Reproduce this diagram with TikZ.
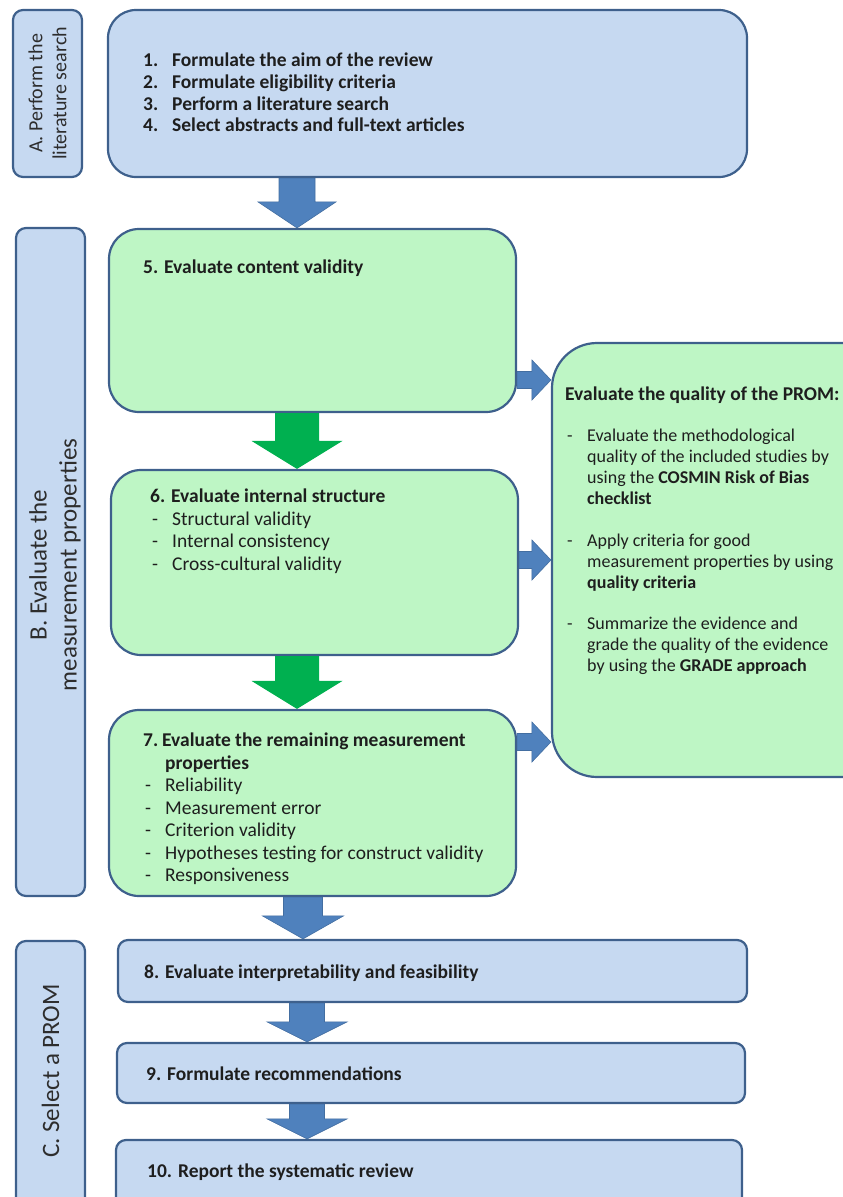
\documentclass[tikz,border=0pt]{standalone}
\usepackage{fontspec}
\setmainfont{Carlito}
\usetikzlibrary{calc}
\definecolor{boxblue}{RGB}{198,217,241}
\definecolor{boxgreen}{RGB}{190,246,197}
\definecolor{edge}{RGB}{62,96,140}
\definecolor{arrblue}{RGB}{79,129,189}
\definecolor{arrgreen}{RGB}{0,176,80}
\definecolor{txt}{RGB}{30,30,30}
\definecolor{txtg}{RGB}{45,45,45}
\tikzset{
  bx/.style={draw=edge, line width=2.2pt, inner sep=0pt},
  bluebx/.style={bx, fill=boxblue},
  greenbx/.style={bx, fill=boxgreen},
  txtnode/.style={inner sep=0pt, text=txt, align=left},
  mainfont/.style={font=\fontsize{19.5}{22.5}\selectfont},
  mainbold/.style={font=\fontsize{19.5}{22.5}\selectfont\bfseries},
  sidefont/.style={font=\fontsize{25}{30}\selectfont, text=txtg},
  bluearrow/.style={fill=arrblue, draw=arrblue!85!black, line width=0.6pt},
  greenarrow/.style={fill=arrgreen},
  fatdown/.style n args={3}{to path={let \p1=(\tikztostart), \p2=(\tikztotarget) in
    (\x1-#1/2,\y1) -- (\x1+#1/2,\y1) -- (\x1+#1/2,\y2+#3) -- (\x1+#2/2,\y2+#3) -- (\x2,\y2)
    -- (\x1-#2/2,\y2+#3) -- (\x1-#1/2,\y2+#3) -- cycle}},
  fatright/.style n args={3}{to path={let \p1=(\tikztostart), \p2=(\tikztotarget) in
    (\x1,\y1+#1/2) -- (\x2-#3,\y1+#1/2) -- (\x2-#3,\y1+#2/2) -- (\x2,\y1)
    -- (\x2-#3,\y1-#2/2) -- (\x2-#3,\y1-#1/2) -- (\x1,\y1-#1/2) -- cycle}},
}
\newcommand\dashitem[1]{\hspace*{2pt}\makebox[20pt][l]{-}#1}
\begin{document}
\begin{tikzpicture}[x=1pt,y=-1pt]
\useasboundingbox (0,0) rectangle (843,1197);
\clip (0,0) rectangle (843,1197);

% side boxes
\node[bluebx, rounded corners=10pt, minimum width=69pt, minimum height=167pt] (sa) at (47.5,93.5) {};
\node[bluebx, rounded corners=10pt, minimum width=69pt, minimum height=668pt] (sb) at (50.5,562) {};
\node[bluebx, rounded corners=10pt, minimum width=69pt, minimum height=289pt] (sc) at (50.5,1085.5) {};
\node[inner sep=0pt, rotate=90, align=center, text=txtg, font=\fontsize{20}{24}\selectfont] (la) at (47.5,93.5) {A. Perform the\\literature search};
\node[inner sep=0pt, rotate=90, align=center, sidefont] (lb) at (55,565) {B. Evaluate the\\measurement properties};
\node[inner sep=0pt, rotate=90, sidefont] (lc) at (50.5,1071) {C. Select a PROM};

% main boxes
\node[bluebx, rounded corners=28pt, minimum width=639pt, minimum height=167pt] (b1) at (427.5,93.5) {};
\node[greenbx, rounded corners=30pt, minimum width=407pt, minimum height=183pt] (b5) at (312.5,320.5) {};
\node[greenbx, rounded corners=30pt, minimum width=407pt, minimum height=185pt] (b6) at (314.5,562.5) {};
\node[greenbx, rounded corners=30pt, minimum width=407pt, minimum height=186pt] (b7) at (312.5,803) {};
\node[greenbx, rounded corners=45pt, minimum width=348pt, minimum height=434pt] (rb) at (726,560) {};
\node[bluebx, rounded corners=10pt, minimum width=629pt, minimum height=62pt] (b8) at (432.5,971) {};
\node[bluebx, rounded corners=10pt, minimum width=628pt, minimum height=60pt] (b9) at (431,1073) {};
\node[bluebx, rounded corners=10pt, minimum width=626pt, minimum height=90pt] (b10) at (429,1185) {};

% texts
\node[txtnode, mainbold, anchor=north west] (t1) at (143,53)
  {\makebox[29pt][l]{1.}Formulate the aim of the review\\[-0.8pt]
   \makebox[29pt][l]{2.}Formulate eligibility criteria\\[-0.8pt]
   \makebox[29pt][l]{3.}Perform a literature search\\[-0.8pt]
   \makebox[29pt][l]{4.}Select abstracts and full-text articles};
\node[txtnode, mainbold, anchor=base west] (t5) at (143,273) {5. Evaluate content validity};
\node[txtnode, mainfont, anchor=north west] (t6) at (150,489)
  {\textbf{6. Evaluate internal structure}\\
   \dashitem{Structural validity}\\
   \dashitem{Internal consistency}\\
   \dashitem{Cross-cultural validity}};
\node[txtnode, mainfont, anchor=north west] (t7) at (143,733)
  {\textbf{\makebox[19pt][l]{7.}Evaluate the remaining measurement}\\
   \hspace*{22pt}\textbf{properties}\\
   \dashitem{Reliability}\\
   \dashitem{Measurement error}\\
   \dashitem{Criterion validity}\\
   \dashitem{Hypotheses testing for construct validity}\\
   \dashitem{Responsiveness}};
\node[txtnode, anchor=base west, font=\fontsize{19.5}{22}\selectfont\bfseries] (th) at (565,400) {Evaluate the quality of the PROM:};
\node[txtnode, anchor=north west, font=\fontsize{18}{20.9}\selectfont] (tr) at (567,429)
  {\makebox[20pt][l]{-}Evaluate the methodological\\
   \hspace*{20pt}quality of the included studies by\\
   \hspace*{20pt}using the \textbf{COSMIN Risk of Bias}\\
   \hspace*{20pt}\textbf{checklist}\\[20.9pt]
   \makebox[20pt][l]{-}Apply criteria for good\\
   \hspace*{20pt}measurement properties by using\\
   \hspace*{20pt}\textbf{quality criteria}\\[20.9pt]
   \makebox[20pt][l]{-}Summarize the evidence and\\
   \hspace*{20pt}grade the quality of the evidence\\
   \hspace*{20pt}by using the \textbf{GRADE approach}};
\node[txtnode, mainbold, anchor=base west] (t8) at (144,978) {8. Evaluate interpretability and feasibility};
\node[txtnode, mainbold, anchor=base west] (t9) at (146,1080) {9. Formulate recommendations};
\node[txtnode, mainbold, anchor=base west] (t10) at (147,1177) {10. Report the systematic review};

% arrow axes
\coordinate (ax1) at (297,0);
\coordinate (ax2) at (297,0);
\coordinate (ax3) at (303,0);
\coordinate (ax4) at (307,0);
\coordinate (ya1) at (0,380);
\coordinate (ya2) at (0,560);
\coordinate (ya3) at (0,742);

% down arrows
\path[bluearrow] (b1.south -| ax1) to[fatdown={36pt}{78pt}{26pt}] (b5.north -| ax1);
\path[greenarrow] (b5.south -| ax2) to[fatdown={44pt}{91pt}{28pt}] (b6.north -| ax2);
\path[greenarrow] (b6.south -| ax2) to[fatdown={44pt}{91pt}{28pt}] (b7.north -| ax2);
\path[bluearrow] (b7.south -| ax3) to[fatdown={39pt}{81pt}{23pt}] (b8.north -| ax3);
\path[bluearrow] (b8.south -| ax4) to[fatdown={35pt}{80pt}{20pt}] (b9.north -| ax4);
\path[bluearrow] (b9.south -| ax4) to[fatdown={35pt}{80pt}{20pt}] (b10.north -| ax4);

% right arrows
\path[bluearrow] (b5.east |- ya1) to[fatright={17pt}{40pt}{19pt}] (rb.west |- ya1);
\path[bluearrow] (b6.east |- ya2) to[fatright={17pt}{40pt}{19pt}] (rb.west |- ya2);
\path[bluearrow] (b7.east |- ya3) to[fatright={17pt}{40pt}{19pt}] (rb.west |- ya3);
\end{tikzpicture}
\end{document}
